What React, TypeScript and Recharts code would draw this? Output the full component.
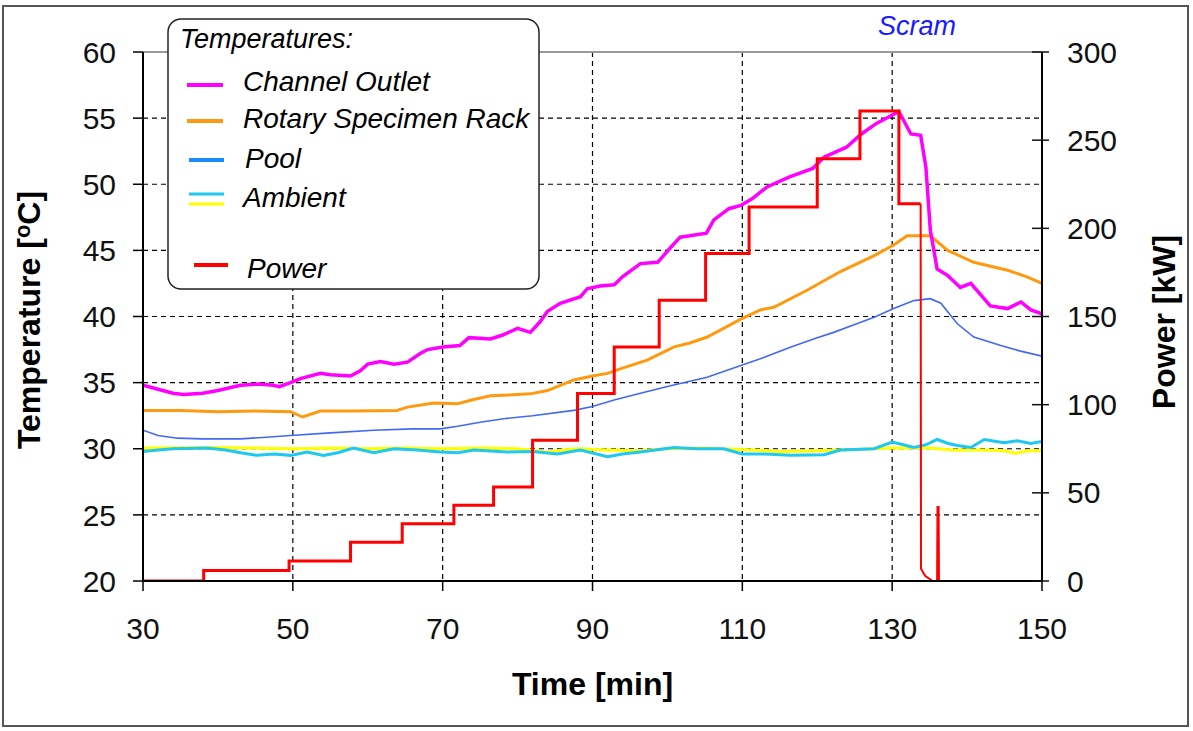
import React from "react";
import { CartesianGrid, Label, Legend, Line, LineChart, ReferenceLine, XAxis, YAxis } from "recharts";

// [time min, value] pairs
type Pt = [number, number];

const timeTicks = [30, 50, 70, 90, 110, 130, 150];
const tempTicks = [20, 25, 30, 35, 40, 45, 50, 55, 60];
const powerTicks = [0, 50, 100, 150, 200, 250, 300];
const scramTime = 133.3;

const channelOutlet: Pt[] = [
    [30, 34.8], [32, 34.5], [34, 34.2], [35.4, 34.1], [38, 34.2], [40, 34.4], [43, 34.8], [45.5, 34.9],
    [47.4, 34.8], [48.2, 34.7], [49.7, 35.0], [51, 35.3], [53.7, 35.7], [55, 35.6], [57.7, 35.5], [59, 35.9],
    [60, 36.4], [61.7, 36.6], [63.5, 36.4], [65.3, 36.55], [67, 37.2], [68, 37.5], [70, 37.7], [72.3, 37.8],
    [73.5, 38.4], [76.4, 38.3], [78, 38.6], [80, 39.1], [81.7, 38.8], [83, 39.6], [84, 40.4], [85.7, 41.0],
    [88.4, 41.5], [89.3, 42.1], [91, 42.3], [92.9, 42.4], [94, 43.0], [96.4, 44.0], [98.7, 44.1], [100.4, 45.2],
    [101.7, 46.0], [103, 46.1], [105.2, 46.3], [106.2, 47.3], [108.2, 48.15], [109.8, 48.4], [111.3, 48.9],
    [113.3, 49.8], [116.3, 50.55], [119.4, 51.2], [120.9, 52.05], [123.9, 52.8], [125.9, 53.8], [127.9, 54.6],
    [129.9, 55.2], [130.9, 55.5], [132.5, 53.8], [133.8, 53.7], [134.5, 51.3], [135.1, 46.5], [136, 43.6],
    [137.4, 43.1], [139.1, 42.2], [140.5, 42.5], [143.1, 40.8], [145.4, 40.6], [147.2, 41.1], [148.5, 40.5],
    [150, 40.2],
];

const specimenRack: Pt[] = [
    [30, 32.9], [35, 32.9], [40, 32.8], [45, 32.85], [49.7, 32.8], [51.3, 32.4], [53.7, 32.85], [58, 32.85],
    [63.9, 32.9], [65.3, 33.15], [68.8, 33.45], [72, 33.4], [74, 33.7], [76.4, 34.0], [81.7, 34.15], [84, 34.4],
    [87.5, 35.2], [90, 35.5], [92, 35.7], [94, 36.1], [97.3, 36.7], [100.9, 37.7], [103, 38.0], [105.3, 38.45],
    [107.5, 39.1], [109.8, 39.8], [112.4, 40.5], [114.2, 40.7], [118.7, 42.0], [123.1, 43.4], [127.6, 44.6],
    [130.2, 45.4], [132, 46.1], [135.1, 46.1], [137.4, 45.0], [140.9, 44.1], [145.4, 43.5], [148, 43.0],
    [150, 42.5],
];

const pool: Pt[] = [
    [30, 31.4], [32, 31.0], [34.6, 30.8], [38, 30.75], [43, 30.75], [46, 30.85], [49.7, 31.0], [55, 31.2],
    [60.8, 31.4], [66, 31.5], [69.7, 31.5], [72, 31.7], [75, 32.0], [78.6, 32.3], [82, 32.5], [87.5, 32.9],
    [90, 33.2], [93, 33.7], [96.4, 34.2], [100, 34.7], [105.3, 35.4], [109.8, 36.3], [112.4, 36.8],
    [116.5, 37.7], [120, 38.4], [122.2, 38.8], [125, 39.4], [127.6, 39.95], [130.2, 40.6], [132.9, 41.2],
    [135.1, 41.35], [136.5, 41.0], [138.7, 39.45], [140.9, 38.45], [144.5, 37.8], [147, 37.4], [150, 37.0],
];

const ambientYellow: Pt[] = [
    [30, 30.05], [40, 30.1], [45, 30.05], [50, 30.0], [55, 30.05], [60, 30.0], [65, 30.05], [70, 30.0],
    [75, 30.05], [80, 30.0], [84, 29.75], [86, 29.9], [88, 30.0], [92, 29.9], [96, 29.85], [100, 30.0],
    [105, 30.05], [110, 29.95], [115, 29.8], [120, 29.85], [125, 29.95], [130, 30.05], [135, 30.05],
    [138, 29.9], [142, 29.9], [145, 29.85], [146.5, 29.65], [148, 29.85], [150, 29.85],
];

const ambientCyan: Pt[] = [
    [30, 29.8], [32, 29.9], [34, 30.0], [38.6, 30.05], [41, 29.9], [43, 29.7], [45.2, 29.5], [47.5, 29.6],
    [49.7, 29.5], [51.9, 29.75], [54.1, 29.5], [56, 29.7], [58.1, 30.05], [60.8, 29.7], [63.5, 30.0],
    [66.6, 29.9], [69.7, 29.75], [72, 29.7], [74.2, 29.9], [78.6, 29.75], [82, 29.8], [85.3, 29.6],
    [88.4, 29.9], [92, 29.4], [94, 29.6], [96.4, 29.75], [100.9, 30.1], [104, 30.0], [107.5, 30.0],
    [110, 29.6], [113, 29.6], [116.5, 29.5], [120.9, 29.55], [123.1, 29.9], [127.6, 30.0], [130, 30.5],
    [131.5, 30.3], [132.9, 30.1], [134.5, 30.3], [136, 30.7], [137.5, 30.4], [138.7, 30.25], [140.5, 30.1],
    [142.3, 30.7], [144.9, 30.45], [146.7, 30.6], [148.5, 30.4], [150, 30.55],
];

// power steps [time min, kW]
const powerSteps: Pt[] = [
    [30, 0], [38.1, 6], [49.5, 11.3], [57.7, 22], [64.6, 32.5], [71.5, 43], [76.8, 53.3], [82, 79.8],
    [88, 106.3], [92.9, 132.7], [98.9, 159.2], [105.1, 185.7], [110.9, 212.1], [120, 239.5], [125.7, 266.5],
    [130.9, 214], [133.8, 214],
];

const powerTrip: Pt[] = [
    [133.8, 214], [133.85, 7], [134.4, 3], [135.4, 0], [136.0, 0], [136.05, 42], [136.2, 42], [136.25, 0],
];

const toRows = (pts: Pt[]) => pts.map(([t, v]) => ({ t, v }));

const TempTitle = ({ viewBox }: any) => {
    const x = viewBox.x + 40;
    const y = 320;
    return (
        <text x={x} y={y} transform={`rotate(-90, ${x}, ${y})`} textAnchor="middle" fontSize={32} fontWeight="bold" fill="#000">
            Temperature [<tspan fontSize={22} dy={-10}>o</tspan><tspan dy={10}>C]</tspan>
        </text>
    );
};

const PowerTitle = ({ viewBox }: any) => {
    const x = viewBox.x + 133;
    const y = 322;
    return (
        <text x={x} y={y} transform={`rotate(-90, ${x}, ${y})`} textAnchor="middle" fontSize={32} fontWeight="bold" fill="#000">
            Power [kW]
        </text>
    );
};

const TimeTitle = ({ viewBox }: any) => (
    <text x={viewBox.x + viewBox.width / 2} y={viewBox.y + 114} textAnchor="middle" fontSize={32} fontWeight="bold" fill="#000">
        Time [min]
    </text>
);

const PowerTick = (props: any) => {
    const { x, y, payload } = props;
    const ax = x - 25;
    return (
        <g>
            <line x1={ax - 10} x2={ax + 7} y1={y} y2={y} stroke="#111" strokeWidth={1.5} />
            <text x={x} y={y} dy="0.355em" textAnchor="start" fontSize={30} fill="#111">
                {payload.value}
            </text>
        </g>
    );
};

const LegendBox = () => {
    const label = { fontSize: 28, fontStyle: "italic" as const, fill: "#000" };
    return (
        <svg width={373} height={272} style={{ display: "block" }}>
            <rect x={1} y={1} width={371} height={270} rx={13} fill="#fff" stroke="#222" strokeWidth={1.5} />
            <text x={13} y={30} fontSize={27} fontStyle="italic" fill="#000">Temperatures:</text>
            <line x1={20} x2={56} y1={67} y2={67} stroke="#ff00ff" strokeWidth={4} />
            <text x={76} y={73} {...label}>Channel Outlet</text>
            <line x1={20} x2={56} y1={103} y2={103} stroke="#ff9910" strokeWidth={4} />
            <text x={76} y={110} {...label}>Rotary Specimen Rack</text>
            <line x1={22} x2={57} y1={142} y2={142} stroke="#1a8cff" strokeWidth={4} />
            <text x={78} y={150} {...label}>Pool</text>
            <line x1={22} x2={57} y1={176} y2={176} stroke="#1ec8f0" strokeWidth={3} />
            <line x1={22} x2={57} y1={186} y2={186} stroke="#ffff00" strokeWidth={3} />
            <text x={76} y={189} {...label}>Ambient</text>
            <line x1={27} x2={61} y1={247} y2={247} stroke="#ff0000" strokeWidth={4} />
            <text x={80} y={260} {...label}>Power</text>
        </svg>
    );
};

export default function App() {
    return (
        <div style={{ position: "absolute", left: 0, top: 0, width: 1193, height: 731, background: "#fff", fontFamily: "'Liberation Sans', Arial, sans-serif" }}>
            <div style={{ position: "absolute", left: 2, top: 5, width: 1187, height: 722, border: "2px solid #555", boxSizing: "border-box" }} />
            <LineChart width={1193} height={731} margin={{ top: 52, right: 0, bottom: 0, left: 0 }}>
                <CartesianGrid
                    stroke="#000"
                    strokeWidth={1.2}
                    strokeDasharray="5 4"
                    horizontalValues={[25, 30, 35, 40, 45, 50, 55]}
                    verticalValues={[50, 70, 90, 110, 130]}
                />
                <XAxis
                    dataKey="t"
                    type="number"
                    domain={[30, 150]}
                    ticks={timeTicks}
                    allowDataOverflow
                    height={150}
                    tickSize={10}
                    tickMargin={27}
                    axisLine={{ stroke: "#000", strokeWidth: 2 }}
                    tickLine={{ stroke: "#000", strokeWidth: 1.5 }}
                    tick={{ fill: "#111", fontSize: 30 }}
                >
                    <Label content={TimeTitle} />
                </XAxis>
                <YAxis
                    type="number"
                    domain={[20, 60]}
                    ticks={tempTicks}
                    allowDataOverflow
                    width={143}
                    tickSize={10}
                    tickMargin={17}
                    axisLine={{ stroke: "#000", strokeWidth: 2 }}
                    tickLine={{ stroke: "#000", strokeWidth: 1.5 }}
                    tick={{ fill: "#111", fontSize: 30 }}
                >
                    <Label content={TempTitle} />
                </YAxis>
                <YAxis
                    yAxisId="power"
                    orientation="right"
                    type="number"
                    domain={[0, 300]}
                    ticks={powerTicks}
                    allowDataOverflow
                    width={151}
                    tickSize={7}
                    tickMargin={18}
                    axisLine={{ stroke: "#000", strokeWidth: 2 }}
                    tickLine={false}
                    tick={PowerTick}
                >
                    <Label content={PowerTitle} />
                </YAxis>
                <ReferenceLine y={60} stroke="#9a9a9a" strokeWidth={2} />
                <ReferenceLine x={scramTime} stroke="none">
                    <Label value="Scram" position="top" offset={17} fontSize={27} fontStyle="italic" fill="#1a1aff" />
                </ReferenceLine>

                <Line data={toRows(ambientYellow)} dataKey="v" type="linear" stroke="#ffff00" strokeWidth={3} dot={false} isAnimationActive={false} />
                <Line data={toRows(ambientCyan)} dataKey="v" type="linear" stroke="#1ec8f0" strokeWidth={3} dot={false} isAnimationActive={false} />
                <Line data={toRows(pool)} dataKey="v" type="linear" stroke="#4169f5" strokeWidth={1.6} dot={false} isAnimationActive={false} />
                <Line data={toRows(specimenRack)} dataKey="v" type="linear" stroke="#ff9910" strokeWidth={3} dot={false} isAnimationActive={false} />
                <Line data={toRows(channelOutlet)} dataKey="v" type="linear" stroke="#ff00ff" strokeWidth={3.5} dot={false} isAnimationActive={false} />
                <Line data={toRows(powerSteps)} dataKey="v" yAxisId="power" type="stepAfter" stroke="#ff0000" strokeWidth={3} dot={false} isAnimationActive={false} />
                <Line data={toRows(powerTrip)} dataKey="v" yAxisId="power" type="linear" stroke="#ff0000" strokeWidth={2} dot={false} isAnimationActive={false} />

                <Legend
                    layout="vertical"
                    align="center"
                    verticalAlign="middle"
                    content={() => <LegendBox />}
                    wrapperStyle={{ left: 167, top: 18, width: 373, height: 272 }}
                />
            </LineChart>
        </div>
    );
}
